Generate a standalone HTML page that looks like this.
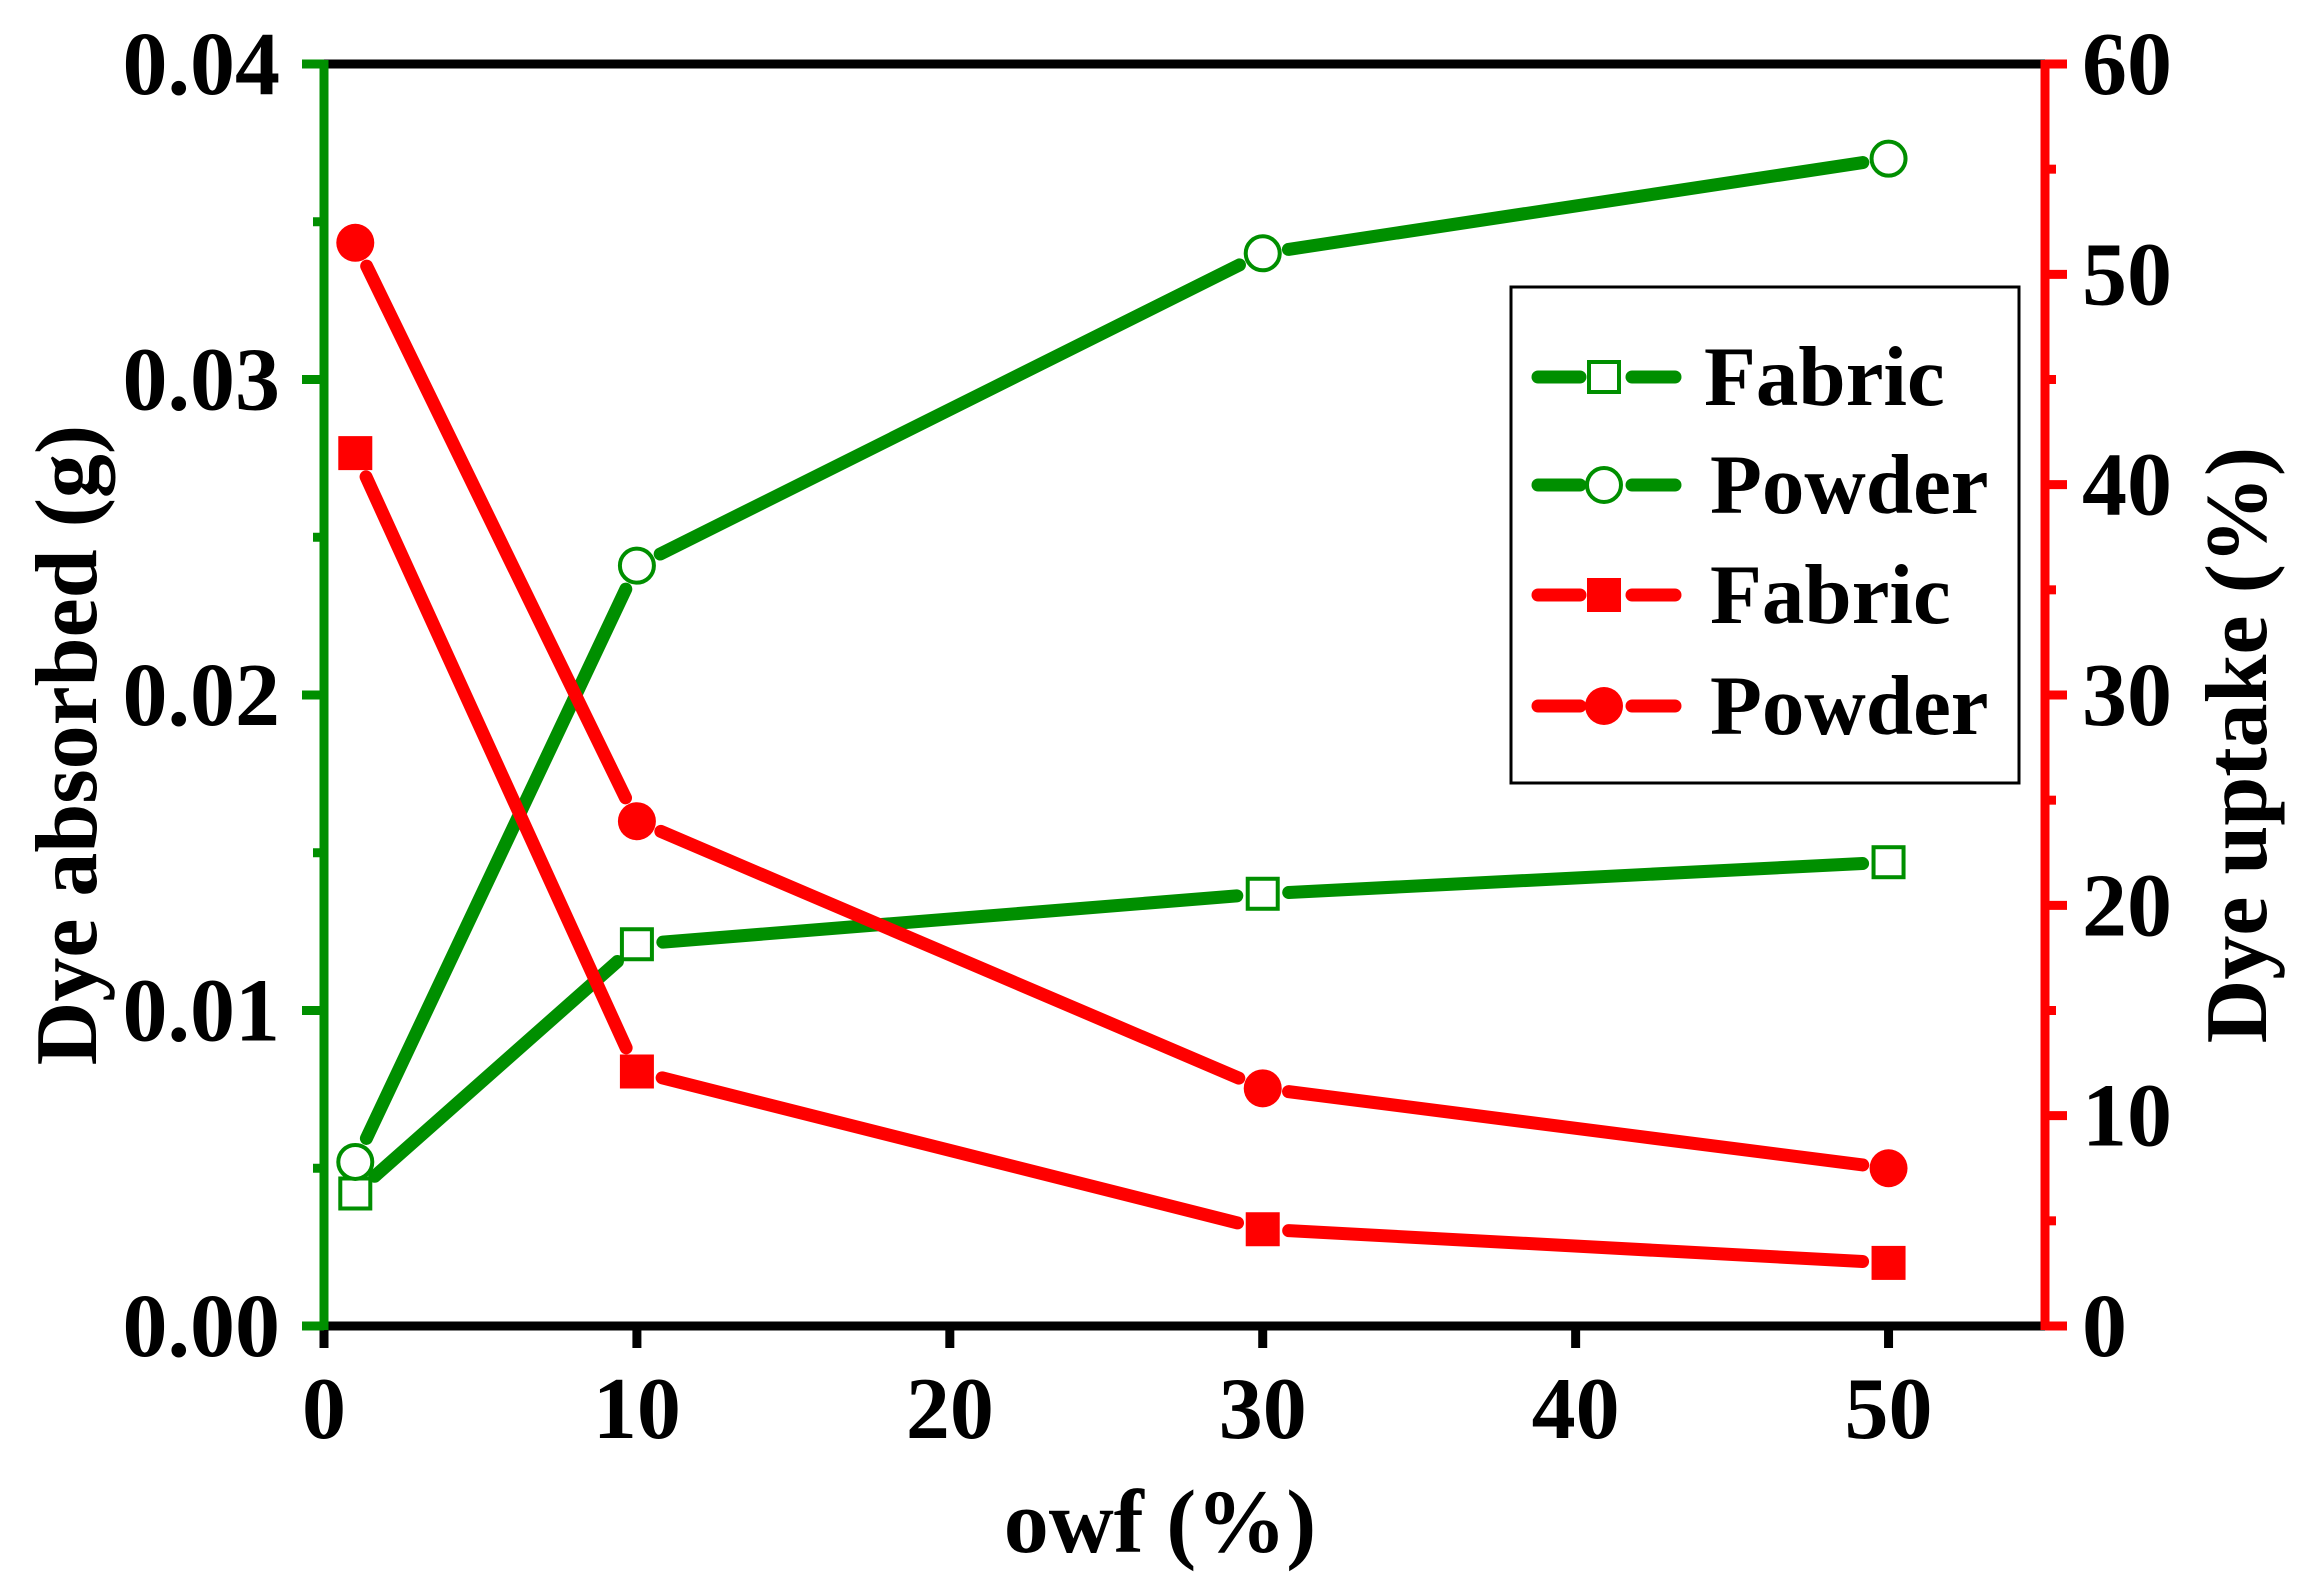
<!DOCTYPE html>
<html><head><meta charset="utf-8"><style>
html,body{margin:0;padding:0;background:#fff;}
svg{display:block;}
text{font-family:"Liberation Serif",serif;font-weight:bold;fill:#000;}
</style></head><body>
<svg id="s" width="2316" height="1591" viewBox="0 0 2316 1591" xmlns="http://www.w3.org/2000/svg"></svg>
<script>
const s=document.getElementById('s');
const X0=324,X1=2045,YT=64,YB=1326;
const G='#008f00',R='#ff0000';
const xp=v=>X0+(X1-X0)*v/55;
const yl=v=>YB-(YB-YT)*v/0.04;
const yr=v=>YB-(YB-YT)*v/60;
let h='';
function L(x1,y1,x2,y2,c,w,cap){h+=`<line x1="${x1}" y1="${y1}" x2="${x2}" y2="${y2}" stroke="${c}" stroke-width="${w}" stroke-linecap="${cap||'butt'}"/>`;}
function T(x,y,t,sz,anc,extra){h+=`<text x="${x}" y="${y}" font-size="${sz}" text-anchor="${anc||'start'}" ${extra||''}>${t}</text>`;}
L(X0,YT,X1,YT,'#000',9);
L(X0,YB,X1,YB,'#000',9);
for(let v=0;v<=50;v+=10){const x=xp(v);L(x,YB,x,YB+22,'#000',9);T(x,YB+112,v,88,'middle');}
L(X0,YT-4,X0,YB+4,G,9);
for(let i=0;i<=4;i++){const y=yl(i*0.01);L(X0-22,y,X0,y,G,9);T(280,y+30,(i*0.01).toFixed(2),90,'end');}
for(let i=0;i<4;i++){const y=yl(i*0.01+0.005);L(X0-11,y,X0,y,G,9);}
L(X1,YT-4,X1,YB+4,R,9);
for(let v=0;v<=60;v+=10){const y=yr(v);L(X1,y,X1+22,y,R,9);T(2082,y+30,v,90,'start');}
for(let v=5;v<60;v+=10){const y=yr(v);L(X1,y,X1+11,y,R,9);}
T(0,0,'Dye absorbed (g)',88,'middle','transform="translate(96,745) rotate(-90)"');
T(0,0,'Dye uptake (%)',88,'middle','transform="translate(2266,745) rotate(-90)"');
T(1160,1552,'owf (%)',90,'middle');
const xs=[1,10,30,50];
const series=[
 {c:G,y:[0.0042,0.0121,0.0137,0.0147].map(yl),m:'so'},
 {c:G,y:[0.0052,0.0241,0.0340,0.0370].map(yl),m:'co'},
 {c:R,y:[41.5,12.1,4.6,3.0].map(yr),m:'sf'},
 {c:R,y:[51.5,24,11.3,7.5].map(yr),m:'cf'}];
function marker(m,x,y,c){
 if(m=='so')h+=`<rect x="${x-15}" y="${y-15}" width="30" height="30" fill="#fff" stroke="${c}" stroke-width="4"/>`;
 if(m=='sf')h+=`<rect x="${x-17}" y="${y-17}" width="34" height="34" fill="${c}"/>`;
 if(m=='co')h+=`<circle cx="${x}" cy="${y}" r="17" fill="#fff" stroke="${c}" stroke-width="4"/>`;
 if(m=='cf')h+=`<circle cx="${x}" cy="${y}" r="19" fill="${c}"/>`;
}
const gap=26;
series.forEach(se=>{
 for(let i=0;i<3;i++){
  const x1=xp(xs[i]),y1=se.y[i],x2=xp(xs[i+1]),y2=se.y[i+1];
  const dx=x2-x1,dy=y2-y1,d=Math.hypot(dx,dy),ux=dx/d,uy=dy/d;
  L(x1+ux*gap,y1+uy*gap,x2-ux*gap,y2-uy*gap,se.c,13,'round');
 }
});
series.forEach(se=>{xs.forEach((v,i)=>marker(se.m,xp(v),se.y[i],se.c));});
h+=`<rect x="1511" y="287" width="508" height="496" fill="#fff" stroke="#000" stroke-width="3"/>`;
const ly=[377,485,595,706];
const lab=['Fabric','Powder','Fabric','Powder'];
const lx=[1704,1710,1710,1710];
series.forEach((se,i)=>{
 L(1538,ly[i],1580,ly[i],se.c,13,'round');
 L(1632,ly[i],1675,ly[i],se.c,13,'round');
 marker(se.m,1604,ly[i],se.c);
 T(lx[i],ly[i]+28,lab[i],85,'start');
});
s.innerHTML=h;
</script>
</body></html>
